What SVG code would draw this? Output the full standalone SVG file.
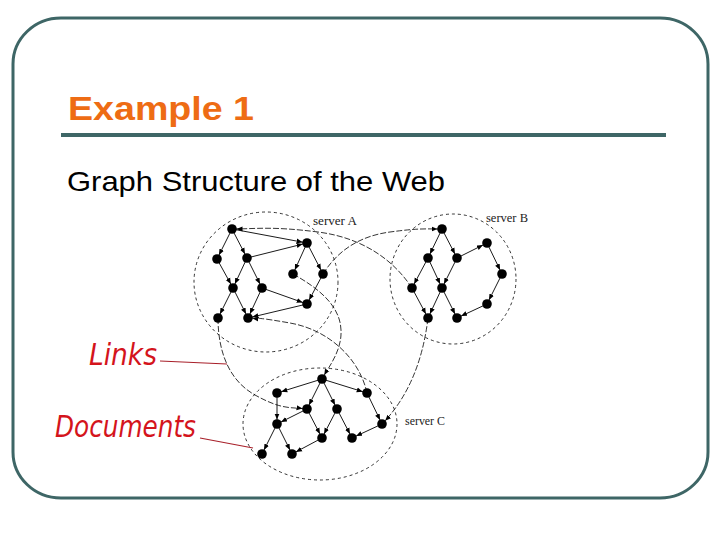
<svg xmlns="http://www.w3.org/2000/svg" width="720" height="540" viewBox="0 0 720 540">
<defs>
<marker id="arr" markerUnits="userSpaceOnUse" markerWidth="12" markerHeight="6" viewBox="0 0 12 6" refX="10.5" refY="3" orient="auto">
<path d="M0,0.5 L6,3 L0,5.5 z" fill="#000"/>
</marker>
<style>
.frame{fill:none;stroke:#3E6666;stroke-width:3}
.title{font-family:"Liberation Sans",Arial,sans-serif;font-weight:bold;font-size:33px;fill:#EE6C14}
.sub{font-family:"Liberation Sans",Arial,sans-serif;font-size:28px;fill:#000}
.hand{font-family:"DejaVu Sans",sans-serif;font-size:30px;fill:#D4141C;font-style:italic}
.srv{font-family:"Liberation Serif",serif;font-size:12px;fill:#222}
.cloud{fill:none;stroke:#000;stroke-width:0.8;stroke-dasharray:3,3}
.e{stroke:#000;stroke-width:0.9;fill:none;marker-end:url(#arr)}
.x{stroke:#000;stroke-width:0.8;fill:none;stroke-dasharray:6,2;marker-end:url(#arr)}
.red{stroke:#A8202A;stroke-width:1.2;fill:none}
.n{fill:#000}
</style>
</defs>
<rect class="frame" x="13" y="18" width="695" height="480" rx="48" ry="46"/>
<text class="title" x="68" y="120" textLength="186" lengthAdjust="spacingAndGlyphs">Example 1</text>
<rect x="61" y="133" width="605" height="4" fill="#3E6666"/>
<text class="sub" x="67" y="191" textLength="378" lengthAdjust="spacingAndGlyphs">Graph Structure of the Web</text>

<g id="servers">
<ellipse class="cloud" cx="266" cy="282" rx="72" ry="70"/>
<ellipse class="cloud" cx="453" cy="279" rx="63" ry="65"/>
<ellipse class="cloud" cx="320" cy="424" rx="77" ry="56"/>
<text class="srv" x="313" y="225" textLength="44" lengthAdjust="spacingAndGlyphs">server A</text>
<text class="srv" x="486" y="222" textLength="42" lengthAdjust="spacingAndGlyphs">server B</text>
<text class="srv" x="405" y="425" textLength="40" lengthAdjust="spacingAndGlyphs">server C</text>
</g>

<g id="connectors">
<!-- server A -->
<line class="e" x1="232" y1="229" x2="307" y2="243"/>
<line class="e" x1="232" y1="229" x2="217" y2="259"/>
<line class="e" x1="232" y1="229" x2="247" y2="258"/>
<line class="e" x1="247" y1="258" x2="307" y2="243"/>
<line class="e" x1="307" y1="243" x2="293" y2="274"/>
<line class="e" x1="307" y1="243" x2="323" y2="274"/>
<line class="e" x1="217" y1="259" x2="233" y2="288"/>
<line class="e" x1="247" y1="258" x2="233" y2="288"/>
<line class="e" x1="247" y1="258" x2="262" y2="288"/>
<line class="e" x1="262" y1="288" x2="307" y2="304"/>
<line class="e" x1="323" y1="274" x2="307" y2="304"/>
<line class="e" x1="233" y1="288" x2="218" y2="318"/>
<line class="e" x1="233" y1="288" x2="248" y2="318"/>
<line class="e" x1="262" y1="288" x2="248" y2="318"/>
<line class="e" x1="307" y1="304" x2="248" y2="318"/>
<!-- server B -->
<line class="e" x1="442" y1="229" x2="428" y2="258"/>
<line class="e" x1="442" y1="229" x2="457" y2="258"/>
<line class="e" x1="457" y1="258" x2="487" y2="243"/>
<line class="e" x1="487" y1="243" x2="502" y2="274"/>
<line class="e" x1="502" y1="274" x2="487" y2="304"/>
<line class="e" x1="487" y1="304" x2="457" y2="318"/>
<line class="e" x1="428" y1="258" x2="412" y2="288"/>
<line class="e" x1="428" y1="258" x2="442" y2="288"/>
<line class="e" x1="457" y1="258" x2="442" y2="288"/>
<line class="e" x1="412" y1="288" x2="428" y2="318"/>
<line class="e" x1="442" y1="288" x2="428" y2="318"/>
<line class="e" x1="442" y1="288" x2="457" y2="318"/>
<!-- server C -->
<line class="e" x1="322" y1="379" x2="277" y2="393"/>
<line class="e" x1="322" y1="379" x2="367" y2="393"/>
<line class="e" x1="322" y1="379" x2="307" y2="409"/>
<line class="e" x1="322" y1="379" x2="337" y2="409"/>
<line class="e" x1="277" y1="393" x2="277" y2="424"/>
<line class="e" x1="307" y1="409" x2="277" y2="424"/>
<line class="e" x1="307" y1="409" x2="322" y2="438"/>
<line class="e" x1="337" y1="409" x2="322" y2="438"/>
<line class="e" x1="337" y1="409" x2="352" y2="438"/>
<line class="e" x1="367" y1="393" x2="382" y2="424"/>
<line class="e" x1="382" y1="424" x2="352" y2="438"/>
<line class="e" x1="277" y1="424" x2="262" y2="454"/>
<line class="e" x1="277" y1="424" x2="292" y2="454"/>
<line class="e" x1="322" y1="438" x2="292" y2="454"/>
<!-- links between servers -->
<path class="x" d="M412,288 C395,262 365,238 318,232 S255,229 232,229"/>
<path class="x" d="M323,274 C338,250 360,236 390,232 S425,229 442,229"/>
<path class="x" d="M428,318 Q420,385 382,424"/>
<path class="x" d="M293,274 C318,288 340,305 341,330 C342,350 330,365 322,379"/>
<path class="x" d="M367,393 C360,360 330,330 290,323 S258,319 248,318"/>
<path class="x" d="M218,318 C218,350 228,380 255,395 S290,407 307,409"/>
<!-- annotation lines -->
<line class="red" x1="160" y1="361" x2="227" y2="364"/>
<line class="red" x1="200" y1="438" x2="253" y2="448"/>
</g>

<g id="a1"><circle class="n" cx="232" cy="229" r="4.8"/></g>
<g id="a2"><circle class="n" cx="307" cy="243" r="4.8"/></g>
<g id="a3"><circle class="n" cx="217" cy="259" r="4.8"/></g>
<g id="a4"><circle class="n" cx="247" cy="258" r="4.8"/></g>
<g id="a5"><circle class="n" cx="293" cy="274" r="4.8"/></g>
<g id="a6"><circle class="n" cx="323" cy="274" r="4.8"/></g>
<g id="a7"><circle class="n" cx="233" cy="288" r="4.8"/></g>
<g id="a8"><circle class="n" cx="262" cy="288" r="4.8"/></g>
<g id="a9"><circle class="n" cx="307" cy="304" r="4.8"/></g>
<g id="a10"><circle class="n" cx="218" cy="318" r="4.8"/></g>
<g id="a11"><circle class="n" cx="248" cy="318" r="4.8"/></g>

<g id="b1"><circle class="n" cx="442" cy="229" r="4.8"/></g>
<g id="b2"><circle class="n" cx="428" cy="258" r="4.8"/></g>
<g id="b3"><circle class="n" cx="457" cy="258" r="4.8"/></g>
<g id="b4"><circle class="n" cx="487" cy="243" r="4.8"/></g>
<g id="b5"><circle class="n" cx="502" cy="274" r="4.8"/></g>
<g id="b6"><circle class="n" cx="412" cy="288" r="4.8"/></g>
<g id="b7"><circle class="n" cx="442" cy="288" r="4.8"/></g>
<g id="b8"><circle class="n" cx="487" cy="304" r="4.8"/></g>
<g id="b9"><circle class="n" cx="428" cy="318" r="4.8"/></g>
<g id="b10"><circle class="n" cx="457" cy="318" r="4.8"/></g>

<g id="c1"><circle class="n" cx="322" cy="379" r="4.8"/></g>
<g id="c2"><circle class="n" cx="277" cy="393" r="4.8"/></g>
<g id="c3"><circle class="n" cx="367" cy="393" r="4.8"/></g>
<g id="c4"><circle class="n" cx="307" cy="409" r="4.8"/></g>
<g id="c5"><circle class="n" cx="337" cy="409" r="4.8"/></g>
<g id="c6"><circle class="n" cx="277" cy="424" r="4.8"/></g>
<g id="c7"><circle class="n" cx="382" cy="424" r="4.8"/></g>
<g id="c8"><circle class="n" cx="322" cy="438" r="4.8"/></g>
<g id="c9"><circle class="n" cx="352" cy="438" r="4.8"/></g>
<g id="c10"><circle class="n" cx="262" cy="454" r="4.8"/></g>
<g id="c11"><circle class="n" cx="292" cy="454" r="4.8"/></g>

<g id="labels">
<text class="hand" x="89" y="365" textLength="68" lengthAdjust="spacingAndGlyphs">Links</text>
<text class="hand" x="55" y="437" textLength="141" lengthAdjust="spacingAndGlyphs">Documents</text>
</g>
</svg>
